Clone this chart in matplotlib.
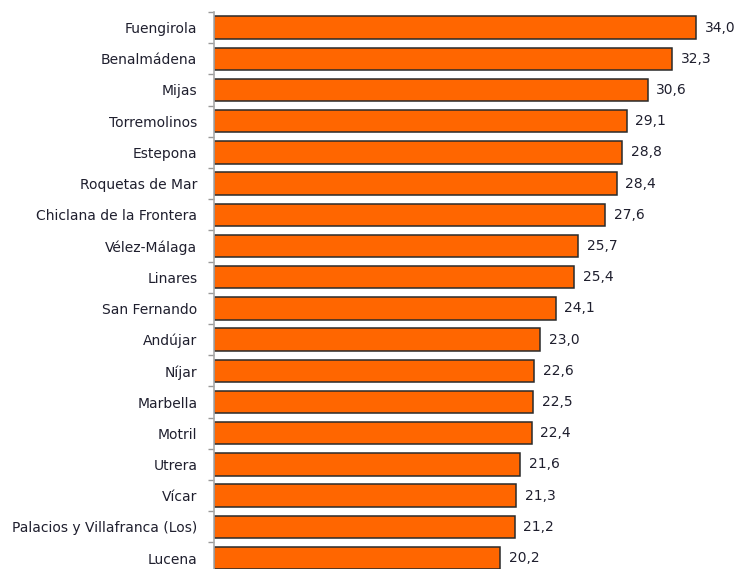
import numpy as np
import matplotlib
matplotlib.use('Agg')
import matplotlib.pyplot as plt

municipios = ['Fuengirola', 'Benalmádena', 'Mijas', 'Torremolinos', 'Estepona',
              'Roquetas de Mar', 'Chiclana de la Frontera', 'Vélez-Málaga', 'Linares',
              'San Fernando', 'Andújar', 'Níjar', 'Marbella', 'Motril', 'Utrera',
              'Vícar', 'Palacios y Villafranca (Los)', 'Lucena']
valores = [34.0, 32.3, 30.6, 29.1, 28.8, 28.4, 27.6, 25.7, 25.4, 24.1,
           23.0, 22.6, 22.5, 22.4, 21.6, 21.3, 21.2, 20.2]

fig = plt.figure(figsize=(7.4, 5.69), dpi=100)
ax = fig.add_axes([214/740, 0, 1 - 214/740, 1 - 12/569])

y = np.arange(len(municipios))
ax.barh(y, valores, height=0.72, color='#FF6600', edgecolor='#2a2a2a', linewidth=1.1, zorder=2)

for yi, v in zip(y, valores):
    ax.text(v + 0.6, yi, f'{v:.1f}'.replace('.', ','), va='center', ha='left',
            fontsize=10, color='#1f1f2e')

ax.set_xlim(0, 526/14.18)
ax.set_ylim(17 + 11/31.2, -0.5)

ax.set_yticks(y)
ax.set_yticklabels(municipios, fontsize=10, color='#1f1f2e')
ax.tick_params(axis='y', which='major', length=0, pad=12)
ax.set_yticks(np.arange(-0.5, 17, 1), minor=True)
ax.tick_params(axis='y', which='minor', length=4, color='#999999', width=1)
ax.set_xticks([])

for s in ['top', 'right', 'bottom']:
    ax.spines[s].set_visible(False)
ax.spines['left'].set_color('#aaaaaa')
ax.spines['left'].set_linewidth(1.2)

fig.savefig('out.png', dpi=100)
